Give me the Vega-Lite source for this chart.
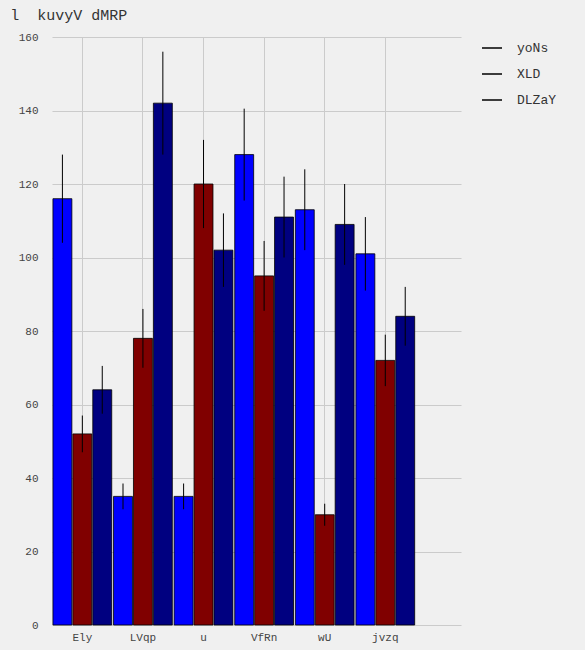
{
"$schema":"https://vega.github.io/schema/vega-lite/v6.json",
"autosize":{"type":"fit","contains":"padding"},
"width":585,"height":650,
"background":"#f0f0f0",
"padding":{"left":10,"top":8,"right":28,"bottom":8},
"title":{"text":"l\u00a0\u00a0kuvyV dMRP","anchor":"start","font":"Liberation Mono","fontSize":15,"fontWeight":"normal","color":"#333","offset":8,"dx":-8},
"config":{"view":{"stroke":null,"fill":"#f0f0f0"},"font":"Liberation Mono"},
"data":{"values":[
{"c":"Ely","s":"yoNs","v":116,"e":12},{"c":"Ely","s":"XLD","v":52,"e":5},{"c":"Ely","s":"DLZaY","v":64,"e":6.5},
{"c":"LVqp","s":"yoNs","v":35,"e":3.5},{"c":"LVqp","s":"XLD","v":78,"e":8},{"c":"LVqp","s":"DLZaY","v":142,"e":14},
{"c":"u","s":"yoNs","v":35,"e":3.5},{"c":"u","s":"XLD","v":120,"e":12},{"c":"u","s":"DLZaY","v":102,"e":10},
{"c":"VfRn","s":"yoNs","v":128,"e":12.5},{"c":"VfRn","s":"XLD","v":95,"e":9.5},{"c":"VfRn","s":"DLZaY","v":111,"e":11},
{"c":"wU","s":"yoNs","v":113,"e":11},{"c":"wU","s":"XLD","v":30,"e":3},{"c":"wU","s":"DLZaY","v":109,"e":11},
{"c":"jvzq","s":"yoNs","v":101,"e":10},{"c":"jvzq","s":"XLD","v":72,"e":7},{"c":"jvzq","s":"DLZaY","v":84,"e":8}
]},
"transform":[{"calculate":"datum.v-datum.e","as":"lo"},{"calculate":"datum.v+datum.e","as":"hi"}],
"encoding":{
"x":{"field":"c","type":"nominal","sort":null,"title":null,
"scale":{"paddingInner":0.03,"paddingOuter":0.39,"align":0.02},
"axis":{"labelAngle":0,"grid":true,"gridColor":"#cbcbcb","domain":false,"ticks":false,"labelFontSize":11,"labelColor":"#444","labelPadding":6}},
"xOffset":{"field":"s","type":"nominal","sort":["yoNs","XLD","DLZaY"],"scale":{"paddingInner":0.05}}
},
"layer":[
{"mark":{"type":"bar","stroke":"black","strokeWidth":0.8},
"encoding":{
"y":{"field":"v","type":"quantitative","title":null,"scale":{"domain":[0,160]},
"axis":{"tickCount":8,"gridColor":"#cbcbcb","domain":false,"ticks":false,"labelFontSize":11,"labelColor":"#444","labelPadding":14}},
"color":{"field":"s","type":"nominal","sort":["yoNs","XLD","DLZaY"],
"scale":{"domain":["yoNs","XLD","DLZaY"],"range":["#0000ff","#800000","#000080"]},
"legend":{"title":null,"orient":"right","symbolType":"stroke","symbolSize":400,"labelFontSize":13,"labelColor":"#333","rowPadding":8,"offset":20,"labelOffset":14,
"encode":{"symbols":{"update":{"stroke":{"value":"black"},"strokeWidth":{"value":1}}}}}}
}},
{"mark":{"type":"rule","color":"black","strokeWidth":1},
"encoding":{"y":{"field":"lo","type":"quantitative"},"y2":{"field":"hi"}}}
]
}
